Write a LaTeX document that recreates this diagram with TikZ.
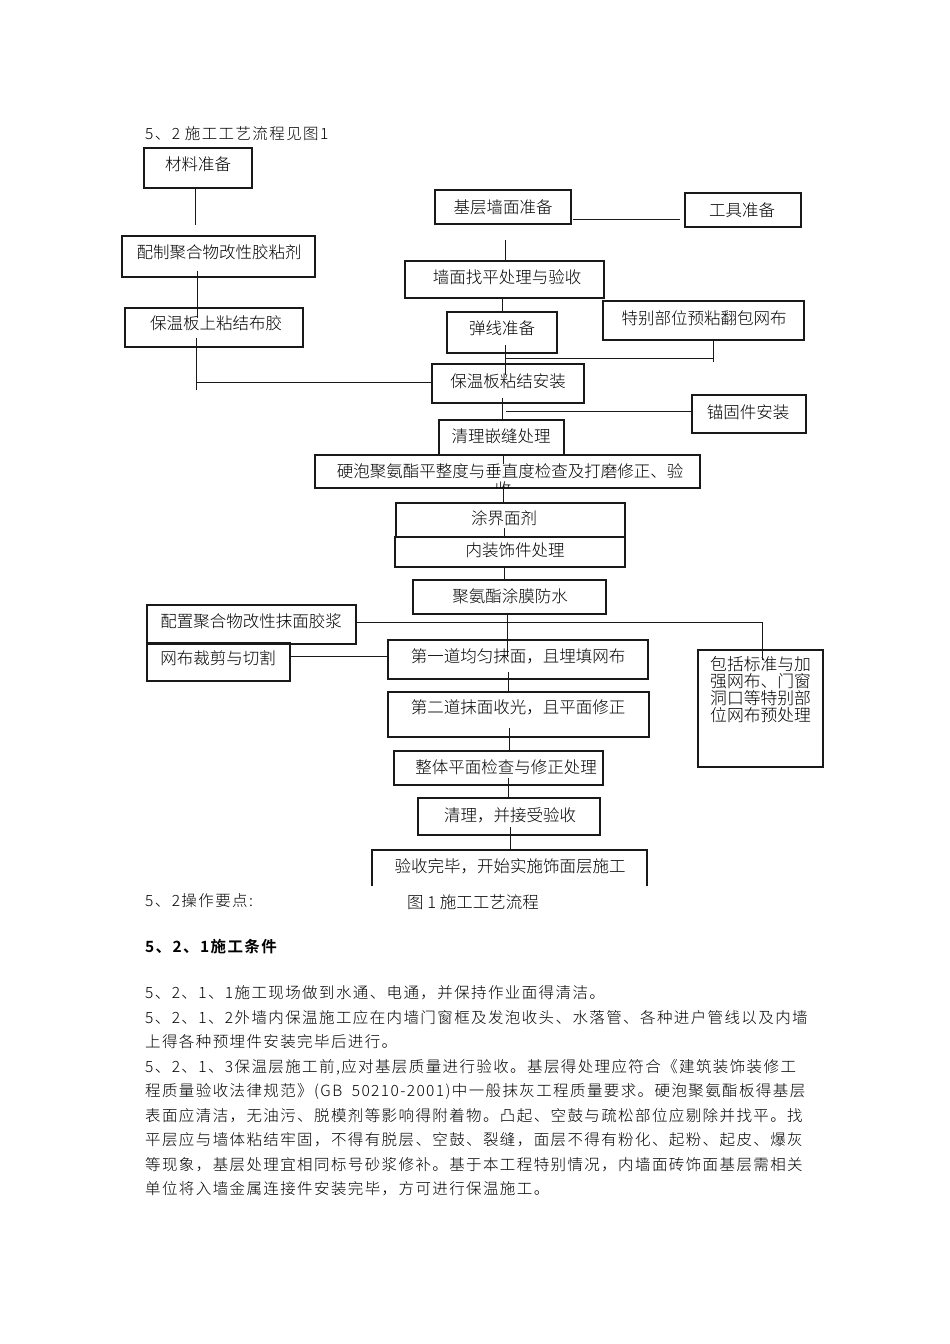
\documentclass[tikz,border=0pt]{standalone}
\usepackage{fontspec}
\newfontfamily\cjk{Noto Sans CJK SC}[UprightFont={* Light},BoldFont={* Bold}]
\newfontfamily\cjkb{Noto Sans CJK SC}[UprightFont={* Light},BoldFont={* Bold},LetterSpace=9]
\begin{document}
\begin{tikzpicture}[x=1pt,y=-1pt,
  boxst/.style={draw=black!90, line width=1.2pt, inner sep=0pt, outer sep=0pt, anchor=north west},
  ln/.style={draw=black!90, line width=1pt},
  bt/.style={font=\fontsize{16.5}{17}\cjk, inner sep=0pt, text height=13.7pt, text depth=1.2pt},
  body/.style={font=\fontsize{15.5}{24}\cjkb, inner sep=0pt, anchor=base west}]
\newcommand\bx[5]{\node[boxst, minimum width={(#4-#2)*1pt}, minimum height={(#5-#3)*1pt}] (#1) at (#2,#3) {};}
\useasboundingbox[fill=white] (0,0) rectangle (950,1344);

% title
\node[body] (title) at (145,139) {5、2 施工工艺流程见图1};

% boxes
\bx{cl}{144}{148}{252}{188}
\node[bt] (cl-t) at (198,164) {材料准备};
\bx{pz}{122}{236}{315}{277}
\node[bt] (pz-t) at (219,252) {配制聚合物改性胶粘剂};
\bx{bw}{125}{308}{303}{347}
\node[bt] (bw-t) at (216,323) {保温板上粘结布胶};
\bx{jc}{435}{190}{571}{224}
\node[bt] (jc-t) at (503,207) {基层墙面准备};
\bx{gj}{685}{193}{801}{227}
\node[bt] (gj-t) at (742,210) {工具准备};
\bx{qm}{405}{261}{604}{298}
\node[bt] (qm-t) at (507,277) {墙面找平处理与验收};
\bx{tx}{447}{312}{557}{353}
\node[bt] (tx-t) at (502,328) {弹线准备};
\bx{tb}{603}{301}{804}{340}
\node[bt] (tb-t) at (704,318) {特别部位预粘翻包网布};
\bx{bn}{432}{364}{584}{403}
\node[bt] (bn-t) at (508,381) {保温板粘结安装};
\bx{mg}{692}{395}{806}{433}
\node[bt] (mg-t) at (748,412) {锚固件安装};
\bx{ql}{439}{420}{564}{455}
\node[bt] (ql-t) at (501,436) {清理嵌缝处理};
\bx{yp}{315}{455}{700}{488}
\node[bt] (yp-t) at (510,471) {硬泡聚氨酯平整度与垂直度检查及打磨修正、验};
\begin{scope}
\clip (316,456) rectangle (699,487);
\node[bt] (yp-t2) at (503,489) {收};
\end{scope}
\bx{tj}{396}{503}{625}{537}
\node[bt] (tj-t) at (504,518) {涂界面剂};
\bx{nz}{395}{537}{625}{567}
\node[bt] (nz-t) at (515,550) {内装饰件处理};
\bx{jq}{413}{580}{606}{614}
\node[bt] (jq-t) at (510,596) {聚氨酯涂膜防水};
\bx{pm}{147}{605}{356}{644}
\node[bt] (pm-t) at (251,621) {配置聚合物改性抹面胶浆};
\bx{wb}{147}{643}{290}{681}
\node[bt] (wb-t) at (218,658) {网布裁剪与切割};
\bx{d1}{388}{640}{648}{679}
\node[bt] (d1-t) at (518,656) {第一道均匀抹面，且埋填网布};
\bx{bk}{698}{650}{823}{767}
\node[font=\fontsize{16.8}{17}\cjk, inner sep=0pt, anchor=north west, align=left] (bk-t) at (710,656)
  {包括标准与加\\强网布、门窗\\洞口等特别部\\位网布预处理};
\bx{d2}{388}{692}{649}{737}
\node[bt] (d2-t) at (518,707) {第二道抹面收光，且平面修正};
\bx{zt}{394}{751}{603}{785}
\node[bt] (zt-t) at (506,767) {整体平面检查与修正处理};
\bx{qs}{418}{798}{600}{835}
\node[bt] (qs-t) at (510,815) {清理，并接受验收};
\node[inner sep=0pt, outer sep=0pt, anchor=north west, minimum width=275pt, minimum height=36pt] (ys) at (372,850) {};
\draw[boxst] (ys.south west) -- (ys.north west) -- (ys.north east) -- (ys.south east);
\node[bt] (ys-t) at (510,866) {验收完毕，开始实施饰面层施工};

% connectors
\draw[ln] (195,188) -- (195,225);
\draw[ln] (197,271) -- (197,318);
\draw[ln] (196,338) -- (196,390);
\draw[ln] (196,382) -- (432,382);
\draw[ln] (573,219) -- (680,219);
\draw[ln] (505,240) -- (505,261);
\draw[ln] (502,298) -- (502,312);
\draw[ln] (713,340) -- (713,362);
\draw[ln] (506,358) -- (713,358);
\draw[ln] (505,345) -- (505,375);
\draw[ln] (502,398) -- (502,420);
\draw[ln] (506,411) -- (692,411);
\draw[ln] (503,455) -- (503,464);
\draw[ln] (503,488) -- (503,503);
\draw[ln] (504,528) -- (504,537);
\draw[ln] (504,567) -- (504,580);
\draw[ln] (507,614) -- (507,657);
\draw[ln] (356,622) -- (762,622) -- (762,660);
\draw[ln] (290,656) -- (388,656);
\draw[ln] (508,672) -- (508,692);
\draw[ln] (509,728) -- (509,751);
\draw[ln] (508,778) -- (508,798);
\draw[ln] (510,827) -- (510,850);

% captions and text below
\node[body] (op) at (145,906) {5、2操作要点:};
\node[font=\fontsize{16.5}{17}\cjk, inner sep=0pt, anchor=base west] (cap) at (407,908) {图 1 施工工艺流程};
\node[body, font=\fontsize{15.5}{24}\cjkb\bfseries] (h521) at (145,952) {5、2、1施工条件};
\node[body] (p1) at (145,998) {5、2、1、1施工现场做到水通、电通，并保持作业面得清洁。};
\node[body] (p2) at (145,1023) {5、2、1、2外墙内保温施工应在内墙门窗框及发泡收头、水落管、各种进户管线以及内墙};
\node[body] (p3) at (145,1047) {上得各种预埋件安装完毕后进行。};
\node[body] (p4) at (145,1072) {5、2、1、3保温层施工前,应对基层质量进行验收。基层得处理应符合《建筑装饰装修工};
\node[body] (p5) at (145,1096) {程质量验收法律规范》(GB\ \ 50210-2001)中一般抹灰工程质量要求。硬泡聚氨酯板得基层};
\node[body] (p6) at (145,1121) {表面应清洁，无油污、脱模剂等影响得附着物。凸起、空鼓与疏松部位应剔除并找平。找};
\node[body] (p7) at (145,1145) {平层应与墙体粘结牢固，不得有脱层、空鼓、裂缝，面层不得有粉化、起粉、起皮、爆灰};
\node[body] (p8) at (145,1170) {等现象，基层处理宜相同标号砂浆修补。基于本工程特别情况，内墙面砖饰面基层需相关};
\node[body] (p9) at (145,1194) {单位将入墙金属连接件安装完毕，方可进行保温施工。};
\end{tikzpicture}
\end{document}
